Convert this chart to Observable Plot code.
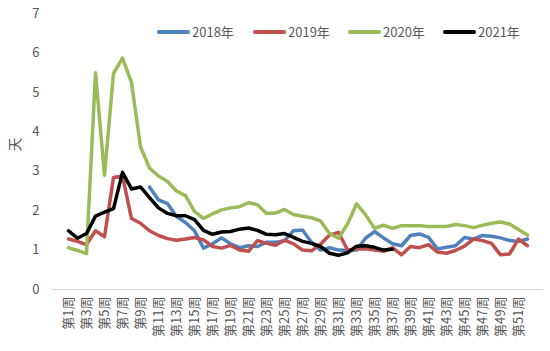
<!DOCTYPE html>
<html>
<head>
<meta charset="utf-8">
<script src="https://cdn.jsdelivr.net/npm/d3@7"></script>
<script src="https://cdn.jsdelivr.net/npm/@observablehq/plot@0.6"></script>
<style>
  html, body { margin: 0; padding: 0; background: #fff; }
  #wrap { position: relative; width: 550px; height: 351px; font-family: "Noto Sans CJK SC", "Noto Sans", sans-serif; }
  .leg { position: absolute; top: 22px; display: flex; align-items: center; font-size: 13px; color: #595959; }
  .leg span.sw { display: inline-block; width: 33px; height: 4px; border-radius: 2px; margin-right: 2px; }
</style>
</head>
<body>
<div id="wrap"></div>
<script>
const weeks = Array.from({length: 52}, (_, i) => `第${i + 1}周`);
const tickWeeks = weeks.filter((_, i) => i % 2 === 0);
const seriesNames = ["2018年", "2019年", "2020年", "2021年"];
const seriesColors = ["#4F81BD", "#C0504D", "#9BBB59", "#000000"];

const v2018 = [null, null, null, null, null, null, null, null, null, 2.6,
  2.27, 2.18, 1.85, 1.7, 1.49, 1.05, 1.16, 1.31, 1.16, 1.06,
  1.11, 1.09, 1.2, 1.2, 1.24, 1.49, 1.51, 1.2, 1.0, 1.06,
  1.0, 0.99, 1.0, 1.3, 1.47, 1.31, 1.16, 1.11, 1.37, 1.41,
  1.32, 1.03, 1.07, 1.11, 1.32, 1.28, 1.37, 1.35, 1.31, 1.24,
  1.22, 1.28];
const v2019 = [1.28, 1.22, 1.14, 1.49, 1.34, 2.84, 2.88, 1.8, 1.68, 1.49,
  1.37, 1.29, 1.25, 1.28, 1.32, 1.26, 1.09, 1.05, 1.12, 1.0,
  0.97, 1.24, 1.17, 1.12, 1.25, 1.16, 1.0, 0.98, 1.15, 1.38,
  1.45, 1.0, 1.03, 1.03, 1.0, 0.97, 1.06, 0.88, 1.09, 1.06,
  1.14, 0.95, 0.92, 0.99, 1.1, 1.28, 1.24, 1.17, 0.88, 0.9,
  1.28, 1.11];
const v2020 = [1.06, 0.99, 0.91, 5.5, 2.9, 5.48, 5.87, 5.25, 3.62, 3.08,
  2.88, 2.74, 2.5, 2.38, 1.98, 1.8, 1.92, 2.02, 2.07, 2.1,
  2.2, 2.15, 1.93, 1.94, 2.03, 1.9, 1.86, 1.82, 1.74, 1.42,
  1.3, 1.66, 2.17, 1.9, 1.55, 1.63, 1.55, 1.62, 1.62, 1.62,
  1.6, 1.6, 1.6, 1.65, 1.62, 1.57, 1.63, 1.68, 1.71, 1.66,
  1.52, 1.38];
const v2021 = [1.49, 1.3, 1.42, 1.86, 1.96, 2.05, 2.97, 2.55, 2.6, 2.33,
  2.07, 1.93, 1.87, 1.87, 1.77, 1.5, 1.4, 1.46, 1.47, 1.53,
  1.56, 1.5, 1.4, 1.39, 1.42, 1.32, 1.22, 1.17, 1.09, 0.92,
  0.87, 0.93, 1.1, 1.11, 1.07, 1.0, 1.02, null, null, null,
  null, null, null, null, null, null, null, null, null, null,
  null, null];
const yTicks = [0, 1, 2, 3, 4, 5, 6, 7];

const allValues = [v2018, v2019, v2020, v2021];
const rows = [];
allValues.forEach((vals, si) => {
  vals.forEach((v, wi) => {
    if (v != null) rows.push({series: seriesNames[si], week: weeks[wi], value: v});
  });
});

const font = '"Noto Sans CJK SC", "Noto Sans", sans-serif';
const chart = Plot.plot({
  width: 550,
  height: 351,
  marginLeft: 51,
  marginRight: 7,
  marginTop: 13,
  marginBottom: 62,
  style: {fontFamily: font, fontSize: "12px", color: "#595959", background: "#fff"},
  x: {type: "point", domain: weeks, padding: 0.5, label: null},
  y: {domain: [0, 7], label: null},
  color: {domain: seriesNames, range: seriesColors},
  marks: [
    Plot.ruleY([0], {stroke: "#d9d9d9", strokeWidth: 1}),
    Plot.axisY({ticks: yTicks, tickFormat: d => String(d), tickSize: 0, tickPadding: 12, fontSize: 13, label: null}),
    Plot.axisX({ticks: tickWeeks, tickSize: 0, tickPadding: 7, tickRotate: -90, fontSize: 13, label: null}),
    Plot.text(["天"], {frameAnchor: "left", dx: -36, rotate: -90, fontSize: 14, fill: "#595959"}),
    Plot.lineY(rows, {x: "week", y: "value", z: "series", stroke: "series", strokeWidth: 3.5, strokeLinejoin: "round", strokeLinecap: "round"})
  ]
});
const wrap = document.getElementById("wrap");
wrap.appendChild(chart);

const legLeft = [157, 253, 348, 443];
seriesNames.forEach((name, i) => {
  const d = document.createElement("div");
  d.className = "leg";
  d.style.left = legLeft[i] + "px";
  const sw = document.createElement("span");
  sw.className = "sw";
  sw.style.background = seriesColors[i];
  d.appendChild(sw);
  d.appendChild(document.createTextNode(name));
  wrap.appendChild(d);
});
</script>
</body>
</html>
